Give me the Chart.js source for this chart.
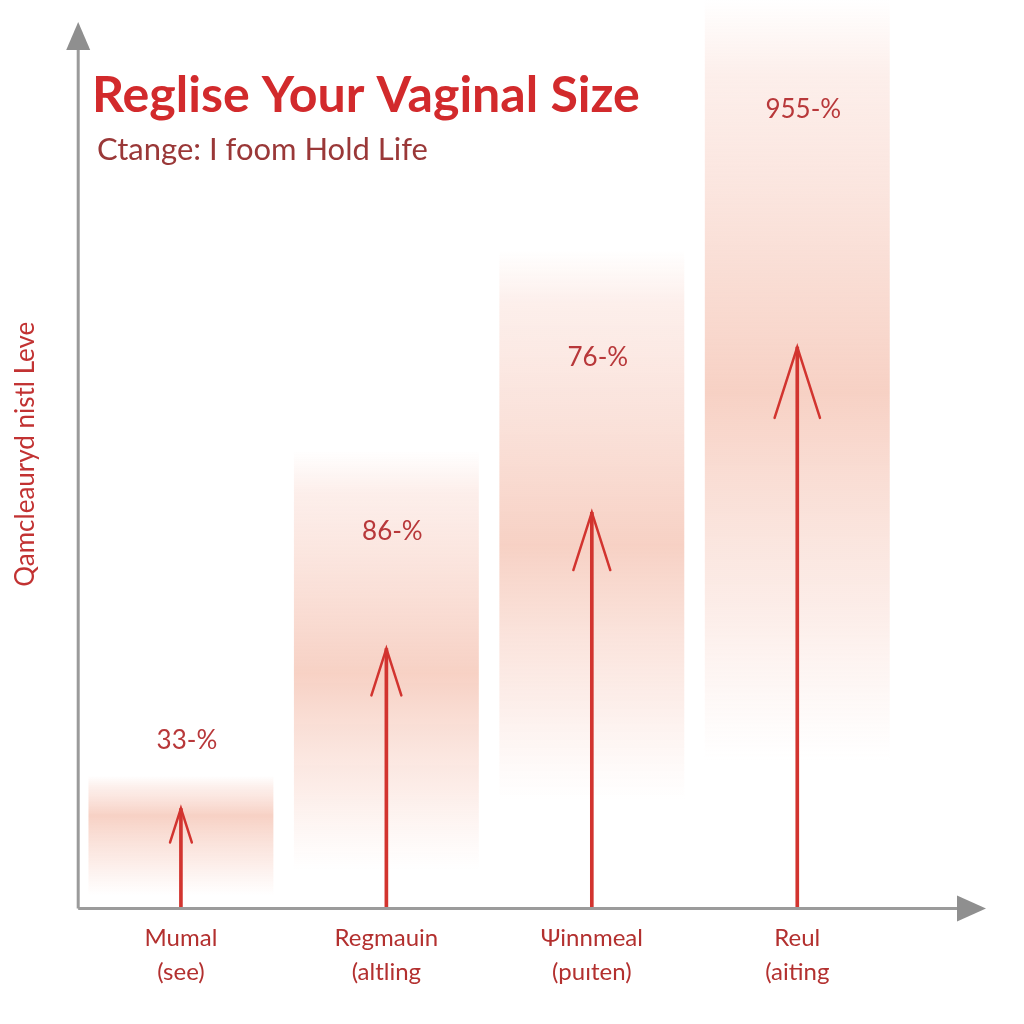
<!DOCTYPE html>
<html>
<head>
<meta charset="utf-8">
<script src="https://cdn.jsdelivr.net/npm/chart.js@4.4.0/dist/chart.umd.min.js"></script>
<style>
html, body { margin: 0; padding: 0; background: #fff; }
#wrap { width: 1024px; height: 1024px; }
</style>
</head>
<body>
<div id="wrap"><canvas id="sizeChart" width="1024" height="1024"></canvas></div>
<script>
// categories (two line labels)
var categories = [['Mumal', '(see)'], ['Regmauin', '(altling'], ['Ψinnmeal', '(puıten)'], ['Reul', '(aiting']];
// shaded band of each column, low / high
var bandLow = [1.4, 4.2, 11.9, 16.3];
var bandHigh = [14.6, 50.4, 72.5, 100];
// arrow tips
var arrowTips = [11, 28.6, 43.6, 61.8];
// value labels and the level they sit at
var valueLabels = ['33-%', '86-%', '76-%', '955-%'];
var labelLevels = [18.5, 41.5, 60.6, 87.9];

var bandData = bandLow.map(function (v, i) { return [v, bandHigh[i]]; });

function bandFill(ctx) {
    var chart = ctx.chart;
    if (!chart.chartArea) return 'rgba(246, 205, 192, 0.6)';
    var y = chart.scales.y;
    var i = ctx.dataIndex;
    var top = y.getPixelForValue(bandHigh[i]);
    var bot = y.getPixelForValue(bandLow[i]);
    var tip = y.getPixelForValue(arrowTips[i]);
    var peak = (tip - top) / (bot - top) + 0.06;
    if (peak > 0.8) peak = 0.8;
    var g = chart.ctx.createLinearGradient(0, top, 0, bot);
    g.addColorStop(0, 'rgba(249, 214, 204, 0)');
    g.addColorStop(0.1, 'rgba(249, 214, 204, 0.4)');
    g.addColorStop(peak, 'rgba(246, 204, 190, 0.9)');
    g.addColorStop(Math.min(peak + (1 - peak) * 0.6, 0.95), 'rgba(249, 216, 206, 0.45)');
    g.addColorStop(1, 'rgba(250, 222, 214, 0)');
    return g;
}

var axisArrows = {
    id: 'axisArrows',
    afterDatasetsDraw: function (chart) {
        var c = chart.ctx, a = chart.chartArea;
        c.save();
        c.strokeStyle = '#9b9b9b';
        c.fillStyle = '#8f8f8f';
        c.lineWidth = 3;
        c.beginPath();
        c.moveTo(a.left, a.bottom);
        c.lineTo(a.left, 46);
        c.moveTo(a.left, a.bottom);
        c.lineTo(960, a.bottom);
        c.stroke();
        c.beginPath();
        c.moveTo(a.left, 22);
        c.lineTo(a.left - 12, 50);
        c.lineTo(a.left + 12, 50);
        c.closePath();
        c.fill();
        c.beginPath();
        c.moveTo(986, a.bottom);
        c.lineTo(957, a.bottom - 13);
        c.lineTo(957, a.bottom + 13);
        c.closePath();
        c.fill();

        // arrow heads on the thin bars
        var meta = chart.getDatasetMeta(1);
        c.strokeStyle = '#d2342f';
        c.lineWidth = 2.5;
        c.lineCap = 'round';
        meta.data.forEach(function (el) {
            var h = 26 + (el.base - el.y) * 0.08;
            var w = h * 0.32;
            c.beginPath();
            c.moveTo(el.x - w, el.y + h);
            c.lineTo(el.x, el.y);
            c.lineTo(el.x + w, el.y + h);
            c.stroke();
        });

        // value labels
        var bands = chart.getDatasetMeta(0);
        c.fillStyle = '#b8383a';
        c.font = '26px Lato';
        c.textAlign = 'center';
        c.textBaseline = 'middle';
        bands.data.forEach(function (el, i) {
            c.fillText(valueLabels[i], el.x + 6, chart.scales.y.getPixelForValue(labelLevels[i]));
        });
        c.restore();
    }
};

var header = {
    id: 'header',
    afterDraw: function (chart) {
        var c = chart.ctx;
        c.save();
        c.textAlign = 'left';
        c.textBaseline = 'alphabetic';
        c.font = 'bold 46px Lato';
        var s = 46 * 548 / c.measureText('Reglise Your Vaginal Size').width;
        c.font = 'bold ' + s + 'px Lato';
        c.fillStyle = '#d22a2c';
        c.fillText('Reglise Your Vaginal Size', 92, 112);
        c.font = '28px Lato';
        var s2 = 28 * 331 / c.measureText('Ctange: I foom Hold Life').width;
        c.font = s2 + 'px Lato';
        c.fillStyle = '#9a3838';
        c.fillText('Ctange: I foom Hold Life', 97, 160);
        c.restore();
    }
};

var sizeChart = new Chart(document.getElementById('sizeChart'), {
    type: 'bar',
    data: {
        labels: categories,
        datasets: [{
            label: 'band',
            data: bandData,
            backgroundColor: bandFill,
            borderWidth: 0,
            grouped: false,
            categoryPercentage: 0.9,
            barPercentage: 1,
            order: 2
        },
        {
            label: 'arrow',
            data: arrowTips,
            backgroundColor: '#d2342f',
            borderWidth: 0,
            grouped: false,
            barThickness: 3,
            order: 1
        }]
    },
    options: {
        responsive: false,
        animation: false,
        layout: { padding: { left: 0, right: 124, top: 0, bottom: 22 } },
        plugins: {
            legend: { display: false },
            tooltip: { enabled: false }
        },
        scales: {
            x: {
                grid: { display: false, drawTicks: false },
                border: { display: false },
                ticks: {
                    color: '#b3302f',
                    font: { family: 'Lato', size: 24, lineHeight: 1.45 },
                    padding: 12,
                    autoSkip: false,
                    maxRotation: 0
                }
            },
            y: {
                min: 0,
                max: 100,
                grid: { display: false, drawTicks: false },
                border: { display: false },
                ticks: { display: false },
                title: {
                    display: true,
                    text: 'Qamcleauryd nistl Leve',
                    color: '#c23232',
                    font: { family: 'Lato', size: 26, lineHeight: 1.2 },
                    padding: { top: 10, bottom: 37 }
                }
            }
        }
    },
    plugins: [axisArrows, header]
});
</script>
</body>
</html>
